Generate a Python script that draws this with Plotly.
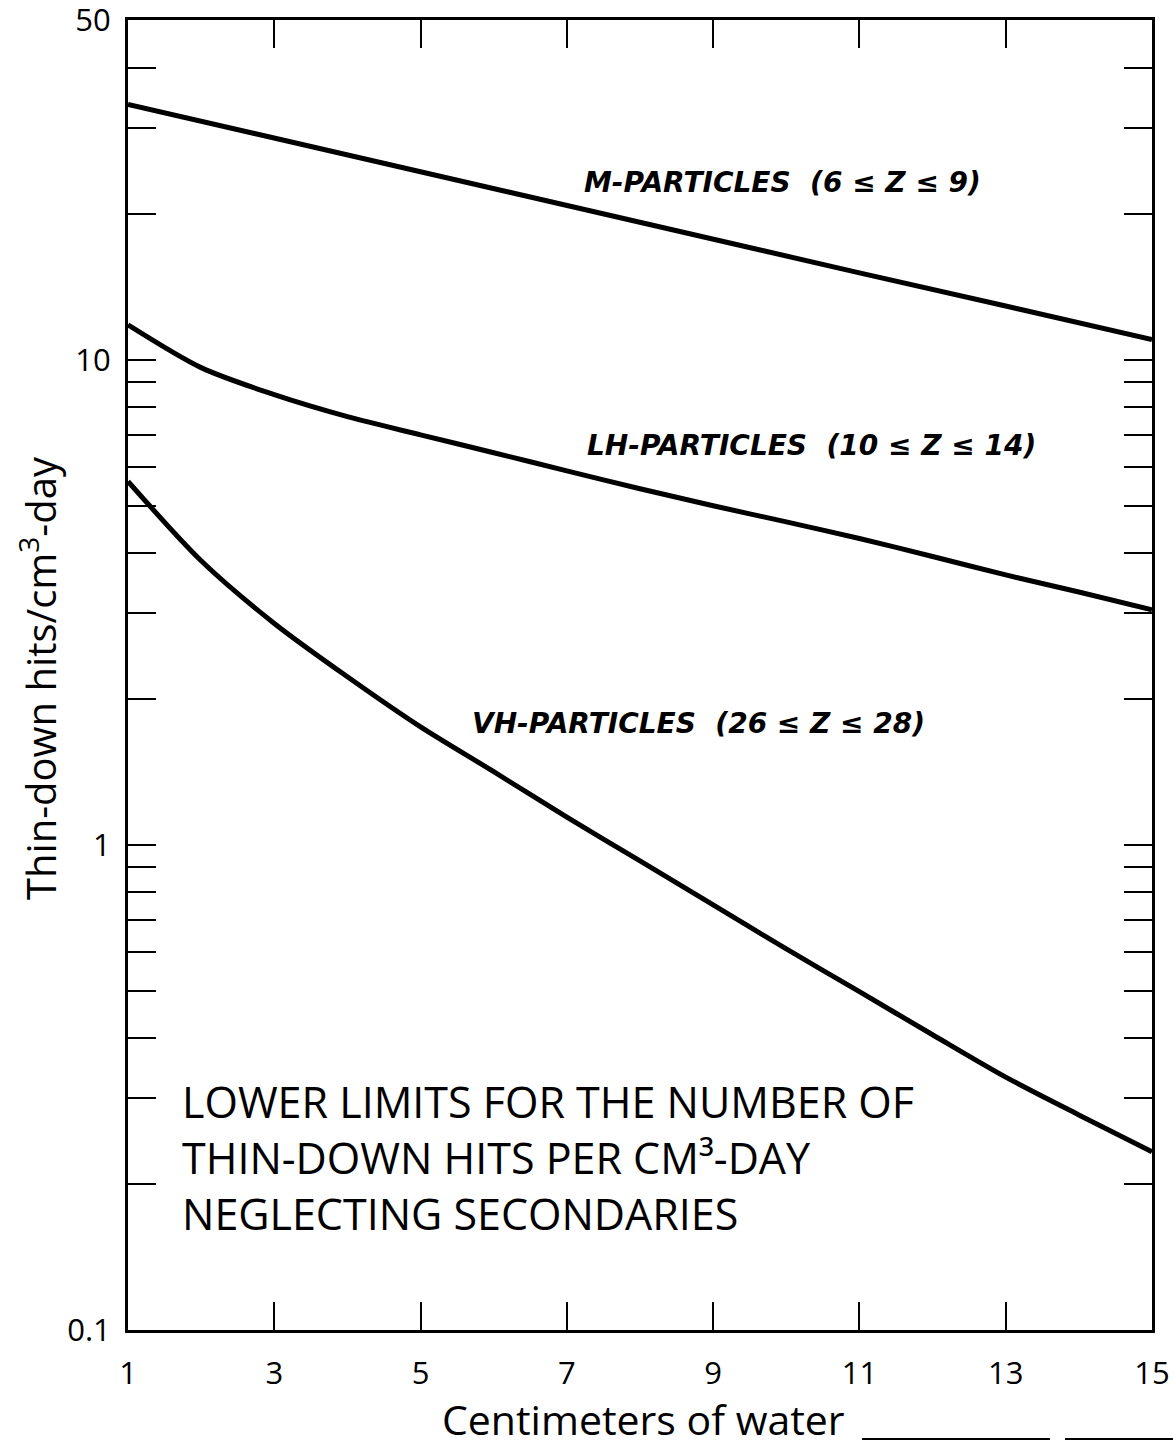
import plotly.graph_objects as go

# Depth of water shielding (cm)
depth = [1, 2, 3, 4, 5, 6, 7, 8, 9, 10, 11, 12, 13, 14, 15]
depth_m = [1, 3, 5, 7, 9, 11, 13, 15]

# Thin-down hits per cm^3-day
m_particles = [33.6, 28.6, 24.4, 20.8, 17.7, 15.1, 12.9, 11.0]
lh_particles = [11.8, 9.63, 8.47, 7.63, 7.00, 6.43, 5.90, 5.42, 5.00, 4.63,
                4.28, 3.93, 3.60, 3.32, 3.05]
vh_particles = [5.61, 3.85, 2.86, 2.22, 1.75, 1.415, 1.14, 0.927, 0.752, 0.610,
                0.498, 0.406, 0.332, 0.2775, 0.233]

x_ticks = [1, 3, 5, 7, 9, 11, 13, 15]
y_major = [0.1, 1, 10, 50]
y_major_text = ["0.1", "1", "10", "50"]
y_minor = ([round(k * 0.1, 1) for k in range(2, 10)] + list(range(2, 10))
           + [20, 30, 40])

W, H = 1173, 1446
L, R, T, B = 128, 21, 20, 116
PW, PH = W - L - R, H - T - B


def px(x, y):
    """Pixel position -> paper coordinates."""
    return (x - L) / PW, (H - B - y) / PH


line_style = dict(color="black", width=5)
fig = go.Figure()
fig.add_trace(go.Scatter(x=depth_m, y=m_particles, mode="lines", line=line_style))
fig.add_trace(go.Scatter(x=depth, y=lh_particles, mode="lines",
                         line=dict(line_style, shape="spline", smoothing=0.8)))
fig.add_trace(go.Scatter(x=depth, y=vh_particles, mode="lines",
                         line=dict(line_style, shape="spline", smoothing=0.8)))

label_font = dict(family="DejaVu Sans", size=28, color="black",
                  weight="bold", style="italic")
curve_labels = [
    ("M-PARTICLES  (6 \u2264 Z \u2264 9)", 582, 182),
    ("LH-PARTICLES  (10 \u2264 Z \u2264 14)", 585, 445),
    ("VH-PARTICLES  (26 \u2264 Z \u2264 28)", 470, 723),
]
annotations = []
for text, x0, y0 in curve_labels:
    ax, ay = px(x0, y0)
    annotations.append(dict(text=text, x=ax, y=ay, xref="paper", yref="paper",
                            xanchor="left", yanchor="middle", showarrow=False,
                            font=label_font))

note = ("LOWER LIMITS FOR THE NUMBER OF<br>"
        "THIN-DOWN HITS PER CM\u00b3-DAY<br>"
        "NEGLECTING SECONDARIES")
ax, ay = px(180, 1157)
annotations.append(dict(text=note, x=ax, y=ay, xref="paper", yref="paper",
                        xanchor="left", yanchor="middle", align="left",
                        showarrow=False,
                        font=dict(family="Open Sans", size=43, color="black")))

# axis titles
ax, ay = px(38, 678)
annotations.append(dict(text="Thin-down hits/cm<sup>3</sup>-day", x=ax, y=ay,
                        xref="paper", yref="paper", textangle=-90,
                        xanchor="center", yanchor="middle", showarrow=False,
                        font=dict(family="Open Sans", size=40, color="black")))
ax, ay = px(440, 1419)
annotations.append(dict(text="Centimeters of water", x=ax, y=ay,
                        xref="paper", yref="paper", xanchor="left",
                        yanchor="middle", showarrow=False,
                        font=dict(family="Open Sans", size=41, color="black")))

shapes = []
for xa, xb in [(862, 1050), (1065, 1173)]:
    p0, q = px(xa, 1439)
    p1, _ = px(xb, 1439)
    shapes.append(dict(type="line", xref="paper", yref="paper", x0=p0, x1=p1,
                       y0=q, y1=q, line=dict(color="black", width=2)))

tick_style = dict(ticks="inside", ticklen=28, tickwidth=2, tickcolor="black")
axis_common = dict(showline=True, linecolor="black", linewidth=3, mirror="ticks",
                   showgrid=False, zeroline=False, automargin=False,
                   tickfont=dict(family="Open Sans", size=31, color="black"),
                   **tick_style)

fig.update_layout(
    width=W, height=H,
    margin=dict(l=L, r=R, t=T, b=B),
    paper_bgcolor="white", plot_bgcolor="white",
    showlegend=False,
    xaxis=dict(axis_common, range=[1, 15], tickvals=x_ticks,
               ticktext=[str(v) for v in x_ticks], ticklabelstandoff=14),
    yaxis=dict(axis_common, type="log", range=[-1.0001, 1.7002],
               tickvals=y_major, ticktext=y_major_text, ticklabelstandoff=8,
               ticklabeloverflow="allow",
               minor=dict(tickmode="array", tickvals=y_minor, showgrid=False,
                          **tick_style)),
    annotations=annotations,
    shapes=shapes,
)

fig.write_html("out.html")
